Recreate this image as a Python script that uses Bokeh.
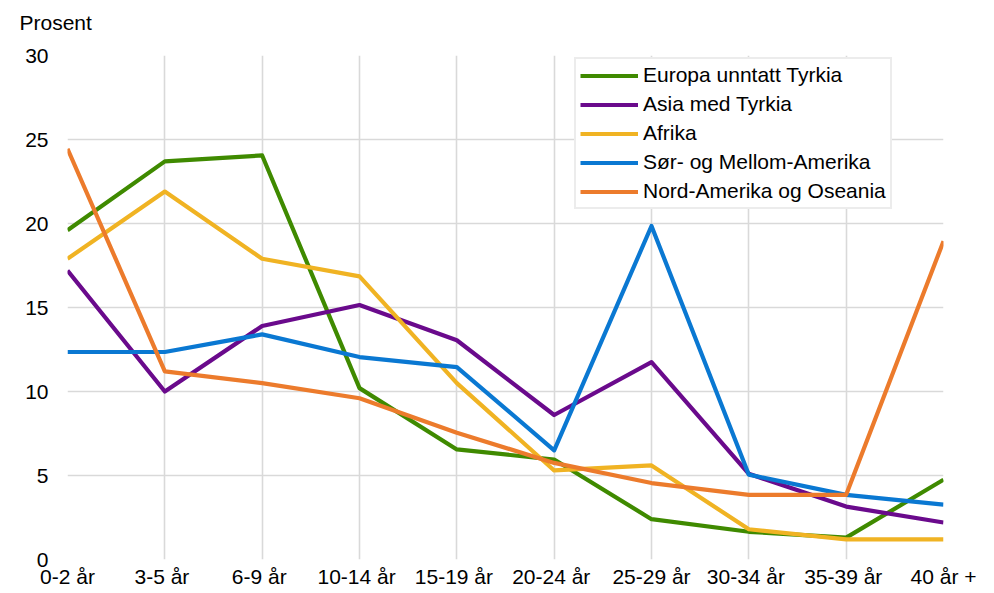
from bokeh.plotting import figure
from bokeh.models import FixedTicker, Range1d, Legend, LegendItem
from bokeh.embed import file_html
from bokeh.resources import INLINE

categories = ["0-2 år", "3-5  år", "6-9  år", "10-14  år", "15-19  år",
              "20-24  år", "25-29 år", "30-34  år", "35-39  år", "40 år +"]

europa = [19.6, 23.7, 24.05, 10.2, 6.55, 5.95, 2.4, 1.65, 1.3, 4.75]
asia = [17.2, 10.0, 13.9, 15.15, 13.05, 8.6, 11.75, 5.1, 3.15, 2.2]
afrika = [17.9, 21.9, 17.9, 16.85, 10.5, 5.3, 5.6, 1.8, 1.2, 1.2]
sor_mellom = [12.35, 12.35, 13.4, 12.05, 11.45, 6.5, 19.85, 5.05, 3.85, 3.27]
nord_oseania = [24.45, 11.2, 10.5, 9.6, 7.55, 5.75, 4.55, 3.85, 3.85, 18.95]

series_names = ["Europa unntatt Tyrkia", "Asia med Tyrkia", "Afrika",
                "Sør- og Mellom-Amerika", "Nord-Amerika og Oseania"]
series_values = [europa, asia, afrika, sor_mellom, nord_oseania]
colors = ["#3f8a00", "#6a0a8c", "#f0b323", "#0a78d2", "#ec7b2c"]

y_ticks = [0, 5, 10, 15, 20, 25, 30]
unit_label = "Prosent"

FONT = "Liberation Sans"
FS = "21px"

xs = list(range(len(categories)))

p = figure(width=990, height=600, output_backend="svg", toolbar_location=None,
           x_range=Range1d(0, len(categories) - 1), y_range=Range1d(0, 30),
           min_border_left=67, min_border_right=47, min_border_top=65,
           min_border_bottom=31, title=unit_label,
           styles={"margin-top": "-10px"})
p.outline_line_color = None
p.background_fill_color = "white"
p.border_fill_color = "white"

p.title.align = "left"
p.title.vertical_align = "top"
p.title.offset = -48
p.title.standoff = 40
p.title.text_font = FONT
p.title.text_font_size = FS
p.title.text_font_style = "normal"
p.title.text_color = "black"

items = []
for name, vals, col in zip(series_names, series_values, colors):
    r = p.line(xs, vals, line_color=col, line_width=4.2, line_join="round")
    items.append(LegendItem(label=name, renderers=[r]))

# axes
p.xaxis.ticker = FixedTicker(ticks=xs)
p.xaxis.major_label_overrides = {i: c for i, c in enumerate(categories)}
p.yaxis.ticker = FixedTicker(ticks=y_ticks)
for ax in (p.xaxis[0], p.yaxis[0]):
    ax.axis_line_color = None
    ax.major_tick_line_color = None
    ax.minor_tick_line_color = None
    ax.major_tick_out = 0
    ax.major_tick_in = 0
    ax.major_label_text_font = FONT
    ax.major_label_text_font_size = FS
    ax.major_label_text_color = "black"
p.xaxis.major_label_standoff = 5
p.yaxis.major_label_standoff = 19

p.xgrid.ticker = FixedTicker(ticks=xs)
p.ygrid.ticker = FixedTicker(ticks=y_ticks)
for g in (p.xgrid[0], p.ygrid[0]):
    g.grid_line_color = "#d9d9d9"
    g.grid_line_width = 1.6

legend = Legend(items=items, location=(507, 350))
legend.label_text_font = FONT
legend.label_text_font_size = FS
legend.label_text_color = "black"
legend.border_line_color = "#d9d9d9"
legend.border_line_width = 2
legend.background_fill_color = "white"
legend.background_fill_alpha = 1.0
legend.padding = 4
legend.margin = 0
legend.spacing = 5
legend.label_height = 21
legend.glyph_height = 21
legend.glyph_width = 58
legend.label_standoff = 5
p.add_layout(legend, "center")

open("out.html", "w").write(file_html(p, INLINE))
